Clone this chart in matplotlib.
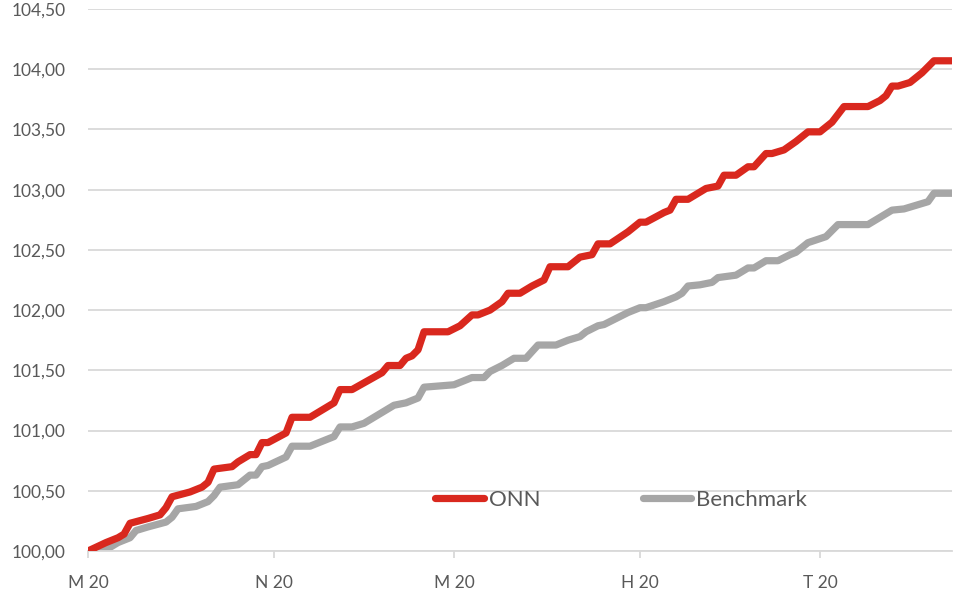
import matplotlib
matplotlib.use("Agg")
import matplotlib.pyplot as plt

# days since start of the period and index values
onn_days = [0, 3, 5, 6, 7, 10, 12, 13, 14, 17, 19, 20, 21, 24, 25, 27, 28, 29, 30, 33,
            34, 37, 41, 42, 44, 49, 50, 52, 53, 54, 55, 56, 60, 62, 64, 65, 67, 69, 70, 72,
            74, 76, 77, 80, 82, 84, 85, 87, 90, 92, 93, 96, 97, 98, 100, 103, 105, 106, 108, 110,
            111, 113, 114, 116, 118, 120, 122, 124, 126, 130, 132, 133, 134, 135, 137, 139, 141, 144]
onn = [100.00, 100.07, 100.11, 100.14, 100.23, 100.27, 100.30, 100.36, 100.45, 100.49,
       100.53, 100.57, 100.68, 100.70, 100.74, 100.80, 100.80, 100.90, 100.90, 100.98,
       101.11, 101.11, 101.23, 101.34, 101.34, 101.48, 101.54, 101.54, 101.60, 101.62,
       101.67, 101.82, 101.82, 101.87, 101.96, 101.96, 102.00, 102.07, 102.14, 102.14,
       102.20, 102.25, 102.36, 102.36, 102.44, 102.46, 102.55, 102.55, 102.65, 102.73,
       102.73, 102.81, 102.83, 102.92, 102.92, 103.01, 103.03, 103.12, 103.12, 103.19,
       103.19, 103.30, 103.30, 103.33, 103.40, 103.48, 103.48, 103.56, 103.69, 103.69,
       103.74, 103.78, 103.86, 103.86, 103.89, 103.97, 104.07, 104.07]

bench_days = [0, 3, 5, 7, 8, 10, 13, 14, 15, 18, 20, 21, 22, 25, 26, 27, 28, 29, 30, 33,
              34, 37, 41, 42, 44, 46, 49, 51, 53, 55, 56, 61, 62, 64, 66, 67, 69, 71, 73, 75,
              78, 80, 82, 83, 85, 86, 88, 90, 92, 93, 96, 98, 99, 100, 102, 104, 105, 108, 110, 111,
              113, 115, 117, 118, 120, 123, 125, 130, 132, 134, 136, 138, 140, 141, 144]
bench = [100.00, 100.01, 100.07, 100.11, 100.17, 100.20, 100.24, 100.28, 100.35, 100.37,
         100.41, 100.46, 100.53, 100.55, 100.59, 100.63, 100.63, 100.70, 100.71, 100.78,
         100.87, 100.87, 100.95, 101.03, 101.03, 101.06, 101.15, 101.21, 101.23, 101.27,
         101.36, 101.38, 101.40, 101.44, 101.44, 101.49, 101.54, 101.60, 101.60, 101.71,
         101.71, 101.75, 101.78, 101.82, 101.87, 101.88, 101.93, 101.98, 102.02, 102.02,
         102.07, 102.11, 102.14, 102.20, 102.21, 102.23, 102.27, 102.29, 102.35, 102.35,
         102.41, 102.41, 102.46, 102.48, 102.56, 102.61, 102.71, 102.71, 102.77, 102.83,
         102.84, 102.87, 102.90, 102.97, 102.97]

tick_days = [0, 31, 61, 92, 122]
tick_labels = ["M 20", "N 20", "M 20", "H 20", "T 20"]
y_ticks = [100.0, 100.5, 101.0, 101.5, 102.0, 102.5, 103.0, 103.5, 104.0, 104.5]

plt.rcParams['font.family'] = ['Lato', 'DejaVu Sans']
text_col = '#595959'
grid_col = '#d9d9d9'

fig = plt.figure(figsize=(9.76, 6.0), dpi=100)
ax = fig.add_axes([0.0902, 0.0817, 0.8852, 0.9033])

ax.plot(onn_days, onn, color='#d9281e', lw=5.2, solid_capstyle='round',
        solid_joinstyle='round', label='ONN', zorder=3)
ax.plot(bench_days, bench, color='#a6a6a6', lw=5.2, solid_capstyle='round',
        solid_joinstyle='round', label='Benchmark', zorder=2)

ax.set_xlim(0, 144)
ax.set_ylim(100, 104.5)
ax.set_yticks(y_ticks)
ax.set_yticklabels([f"{v:.2f}".replace('.', ',') for v in y_ticks])
ax.set_xticks(tick_days)
ax.set_xticklabels(tick_labels)

ax.grid(axis='y', color=grid_col, lw=1.3)
ax.set_axisbelow(True)
for s in ['top', 'right', 'left']:
    ax.spines[s].set_visible(False)
ax.spines['bottom'].set_color(grid_col)
ax.spines['bottom'].set_linewidth(1.3)

ax.tick_params(axis='y', length=0, pad=16, labelsize=12.5, labelcolor=text_col)
ax.tick_params(axis='x', length=5, width=1.3, color=grid_col, pad=12,
               labelsize=12.5, labelcolor=text_col)

leg = ax.legend(loc='center', bbox_to_anchor=(0.617, 0.094), ncol=2, frameon=False,
                fontsize=16, handlelength=2.2, handletextpad=0.2, columnspacing=4.6)
for t in leg.get_texts():
    t.set_color(text_col)

fig.savefig('out.png', dpi=100)
